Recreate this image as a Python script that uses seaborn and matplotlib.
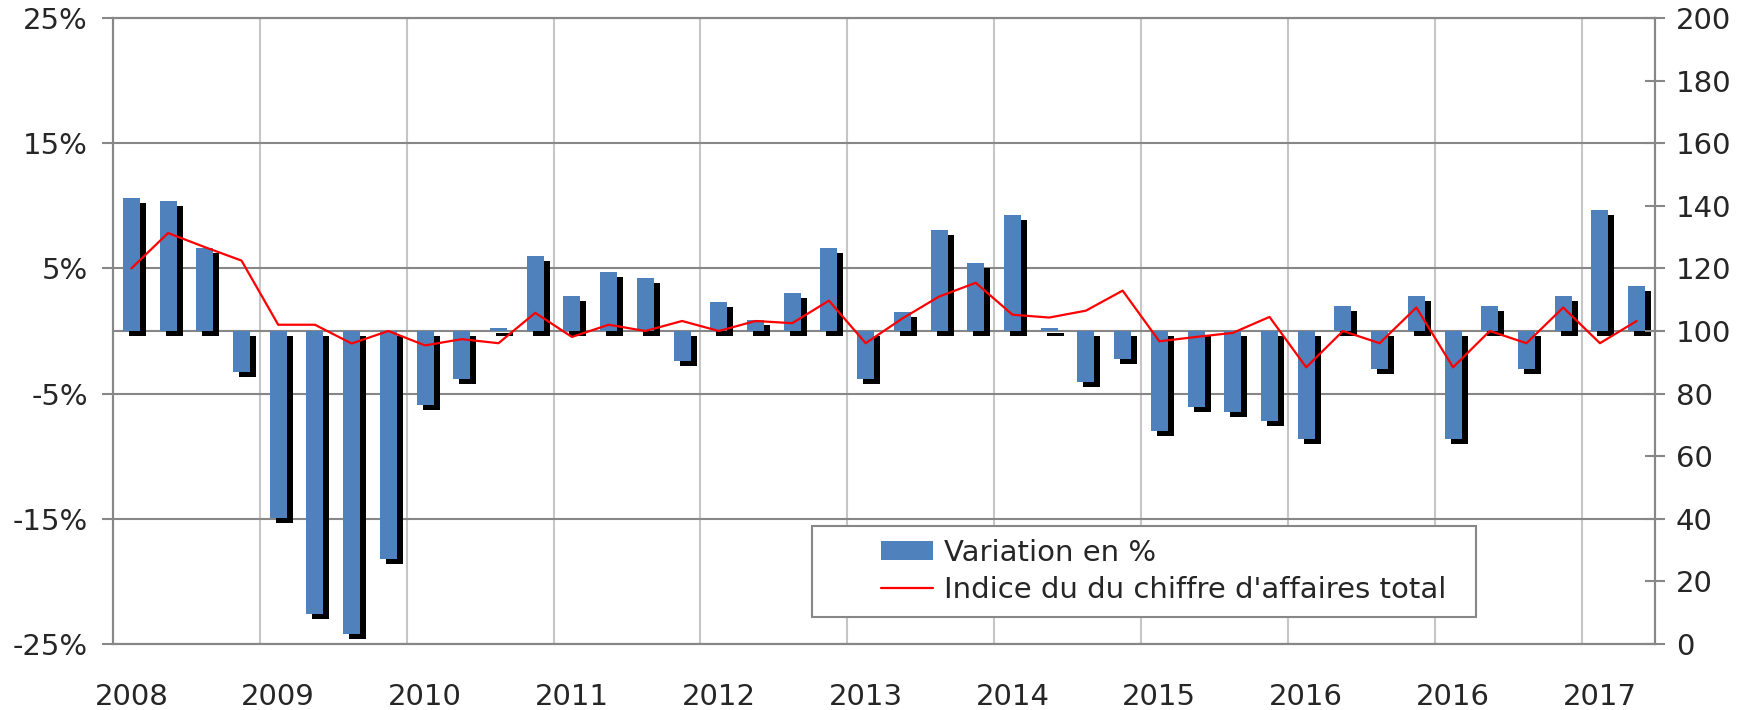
import numpy as np
import pandas as pd
import matplotlib
matplotlib.use("Agg")
import matplotlib.pyplot as plt
import matplotlib.transforms as mtransforms
from matplotlib.patches import Patch, Rectangle
from matplotlib.lines import Line2D
import seaborn as sns

# Data (quarterly)
variation = [10.6, 10.4, 6.6, -3.3, -14.9, -22.6, -24.2, -18.2, -5.9, -3.8, 0.2, 6.0,
             2.8, 4.7, 4.2, -2.4, 2.3, 0.9, 3.0, 6.6, -3.8, 1.5, 8.1, 5.4,
             9.3, 0.2, -4.1, -2.2, -8.0, -6.1, -6.5, -7.2, -8.6, 2.0, -3.0, 2.8,
             -8.6, 2.0, -3.0, 2.8, 9.7, 3.6]
indice = [120, 131.3, 126.8, 122.5, 102, 102, 96, 100, 95.4, 97.4, 96.1, 105.8,
          98.1, 102, 100, 103.2, 100, 103.2, 102.5, 109.7, 96.1, 104, 111, 115.4,
          105.2, 104.3, 106.5, 112.9, 96.7, 98.1, 99.4, 104.5, 88.4, 100, 96.1, 107.5,
          88.4, 100, 96.1, 107.5, 96.1, 103.2]
year_labels = ["2008", "2009", "2010", "2011", "2012", "2013", "2014",
               "2015", "2016", "2016", "2017"]
left_ticks = [-25, -15, -5, 5, 15, 25]
right_ticks = list(range(0, 201, 20))

df = pd.DataFrame({"q": np.arange(len(variation)), "variation": variation, "indice": indice})

blue = "#4F81BD"
grid_dark = "#878787"
grid_light = "#C6C6C6"
fs = 21

sns.set_style("white")
plt.rcParams["font.family"] = ["DejaVu Sans"]

fig = plt.figure(figsize=(17.38, 7.10), dpi=100)
ax = fig.add_axes([113 / 1738, (710 - 644) / 710, (1655 - 113) / 1738, (644 - 18) / 710])

# Shadow bars (black, shifted right/down)
sns.barplot(data=df, x="q", y="variation", color="black", width=0.46,
            saturation=1, linewidth=0, edgecolor="none", ax=ax, zorder=3)
shift = mtransforms.ScaledTranslation(0.06, -0.05, fig.dpi_scale_trans)
for p in ax.patches:
    p.set_transform(ax.transData + shift)

# Main bars
sns.barplot(data=df, x="q", y="variation", color=blue, width=0.46,
            saturation=1, linewidth=0, edgecolor="none", ax=ax, zorder=4)

ax.set_xlim(-0.5, len(variation) - 0.5)
ax.set_ylim(-25, 25)
ax.set_yticks(left_ticks)
ax.set_yticklabels([f"{v}%" for v in left_ticks])
ax.set_xticks(range(0, len(variation), 4))
ax.set_xticklabels(year_labels)
ax.set_xticks(np.arange(3.5, len(variation) - 1, 4), minor=True)
ax.set_xlabel("")
ax.set_ylabel("")

ax.grid(axis="y", which="major", color=grid_dark, lw=1.5, zorder=0)
ax.grid(axis="x", which="minor", color=grid_light, lw=1.5, zorder=0)
ax.set_axisbelow(True)
ax.axhline(0, color=grid_dark, lw=1.5, zorder=2)

ax.tick_params(axis="x", which="both", length=0, labelsize=fs, pad=28)
ax.tick_params(axis="y", length=8, width=1.5, color=grid_dark, direction="out",
               labelsize=fs, pad=10)
for s in ax.spines.values():
    s.set_color(grid_dark)
    s.set_linewidth(1.5)

# Index line on right axis
ax2 = ax.twinx()
sns.lineplot(data=df, x="q", y="indice", color="#FF0000", lw=1.6, ax=ax2)
ax2.set_ylim(0, 200)
ax2.set_yticks(right_ticks)
ax2.set_ylabel("")
ax2.tick_params(axis="y", length=14, width=1.5, color=grid_dark, direction="inout",
                labelsize=fs, pad=8)
for s in ax2.spines.values():
    s.set_color(grid_dark)
    s.set_linewidth(1.5)

# Legend
frame = Rectangle((0.453, 0.043), 0.4306, 0.145, transform=ax.transAxes,
                  facecolor="white", edgecolor=grid_dark, lw=1.5, zorder=10)
ax2.add_patch(frame)
handles = [Patch(facecolor=blue, edgecolor="none"),
           Line2D([], [], color="#FF0000", lw=1.6)]
leg = ax2.legend(handles, ["Variation en %", "Indice du du chiffre d'affaires total"],
                 loc="center left", bbox_to_anchor=(0.498, 0.116), frameon=False,
                 fontsize=fs, handlelength=1.8, handleheight=0.6, handletextpad=0.35,
                 labelspacing=0.3, borderpad=0, borderaxespad=0)
leg.set_zorder(11)

fig.savefig("out.png", dpi=100)
